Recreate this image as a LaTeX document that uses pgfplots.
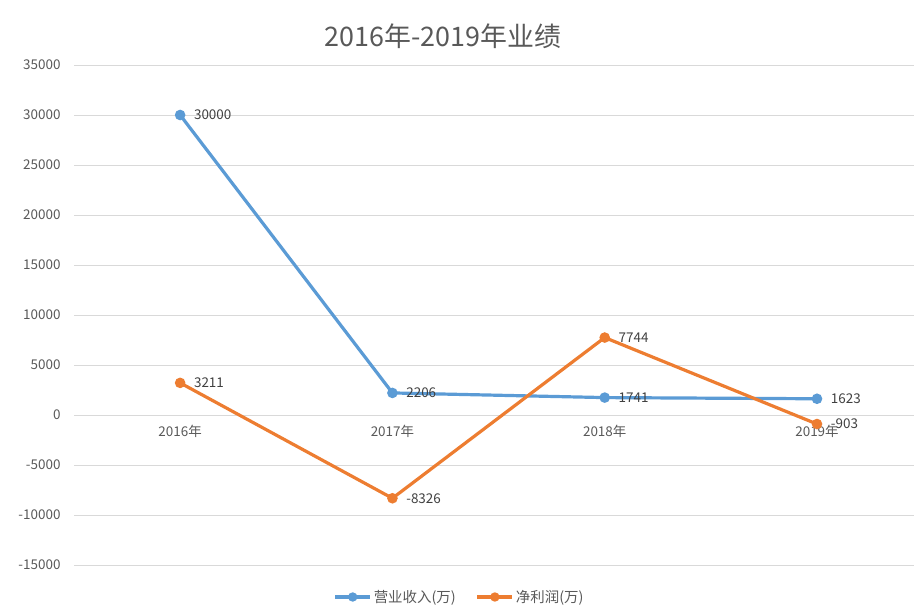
\documentclass[border=0pt]{standalone}
\usepackage{pgfplots}
\pgfplotsset{compat=1.18}
\usepackage{fontspec}
\setmainfont{Noto Sans CJK SC}
\definecolor{blueS}{HTML}{5B9BD5}
\definecolor{orangeS}{HTML}{ED7D31}
\definecolor{txt}{HTML}{595959}
\definecolor{grd}{HTML}{D9D9D9}
\definecolor{lbl}{HTML}{404040}

\begin{document}
\begin{tikzpicture}
  \path[use as bounding box] (0bp,0bp) rectangle (914bp,614bp);
  \node[text=txt, font=\fontsize{27}{32}\selectfont] at (443bp,578bp) {2016年-2019年业绩};
  \begin{axis}[
    at={(74bp,49bp)}, anchor=south west,
    scale only axis, width=840bp, height=500bp,
    xmin=-0.5, xmax=3.457, ymin=-15000, ymax=35000,
    ytick={-15000,-10000,...,35000},
    scaled y ticks=false,
    xtick={0,1,2,3}, xticklabels={2016年,2017年,2018年,2019年},
    axis x line=middle, axis y line=left,
    axis line style={draw=none,-},
    hide obscured x ticks=false, hide obscured y ticks=false,
    major tick length=0,
    ymajorgrids, grid style={grd, line width=0.75bp},
    tick label style={text=txt, font=\fontsize{13.5}{16}\selectfont},
    yticklabel style={xshift=-10bp},
    xticklabel style={yshift=-7bp},
    /pgf/number format/1000 sep={},
    /pgf/number format/assume math mode=true,
    nodes near coords,
    nodes near coords style={anchor=west, xshift=9bp, text=lbl, font=\fontsize{13.5}{16}\selectfont},
    every axis plot/.append style={line width=3.2bp, mark=*, mark size=3.6bp},
    legend columns=2,
    legend style={at={(0.459,-0.064)}, anchor=center, draw=none, fill=none,
      text=txt, font=\fontsize{14.5}{17}\selectfont,
      /tikz/every even column/.append style={column sep=18bp}},
    legend image code/.code={\draw[mark repeat=2,mark phase=2,mark size=3bp] plot coordinates {(0bp,0bp)(17.5bp,0bp)(35bp,0bp)};},
  ]
    \addplot[blueS] coordinates {(0,30000) (1,2206) (2,1741) (3,1623)};
    \addplot[orangeS] coordinates {(0,3211) (1,-8326) (2,7744) (3,-903)};
    \legend{营业收入(万), 净利润(万)}
  \end{axis}
\end{tikzpicture}
\end{document}
